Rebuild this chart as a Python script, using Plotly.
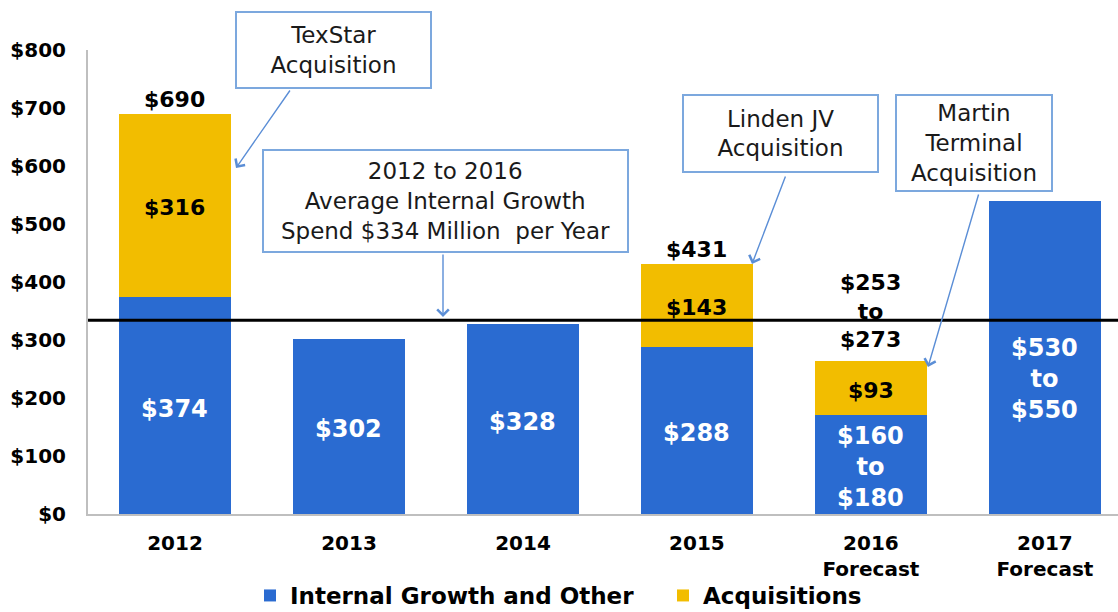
import plotly.graph_objects as go

# ---------------- data ----------------
years = ["2012", "2013", "2014", "2015", "2016<br>Forecast", "2017<br>Forecast"]
internal = [374, 302, 328, 288, 170, 540]
acquisitions = [316, 0, 0, 143, 93, 0]
internal_labels = ["$374", "$302", "$328", "$288", "$160<br>to<br>$180", "$530<br>to<br>$550"]
acq_labels = ["$316", "", "", "$143", "$93", ""]
total_labels = ["$690", "", "", "$431", "$253<br>to<br>$273", ""]
avg_internal = 334
y_ticks = [0, 100, 200, 300, 400, 500, 600, 700, 800]
y_tick_text = ["$0", "$100", "$200", "$300", "$400", "$500", "$600", "$700", "$800"]

callouts = [
    "TexStar<br>Acquisition",
    "2012 to 2016<br>Average Internal Growth<br>Spend $334 Million  per Year",
    "Linden JV<br>Acquisition",
    "Martin<br>Terminal<br>Acquisition",
]

# ---------------- style ----------------
BLUE = "#2A6BD1"
GOLD = "#F2BD00"
BOX = "#7CA8DE"
ARROW = "#5B8ED6"
FONT = "DejaVu Sans"

W, H = 1118, 612
L, R, T, B = 88, 1118, 50, 514


def px(x):
    return (x - L) / (R - L)


def py(y):
    return (B - y) / (B - T)


fig = go.Figure()
fig.add_trace(go.Bar(x=list(range(len(years))), y=internal, name="Internal Growth and Other",
                     marker=dict(color=BLUE, line=dict(width=0))))
fig.add_trace(go.Bar(x=list(range(len(years))), y=acquisitions, name="Acquisitions",
                     marker=dict(color=GOLD, line=dict(width=0))))

ann = []
# labels inside internal segment
for i, (v, t) in enumerate(zip(internal, internal_labels)):
    multi = "<br>" in t
    shift = -22 if i == 5 else (-2 if multi else -3)
    ann.append(dict(x=i, y=v / 2, text=t, showarrow=False, yshift=shift,
                    font=dict(family=FONT, size=24, color="white", weight="bold")))
# labels inside acquisition segment
for i, (a, t) in enumerate(zip(acquisitions, acq_labels)):
    if t:
        ann.append(dict(x=i, y=internal[i] + a / 2, text=t, showarrow=False, yshift=-2,
                        font=dict(family=FONT, size=22, color="black", weight="bold")))
# totals
for i, t in enumerate(total_labels):
    if t:
        tot = internal[i] + acquisitions[i]
        ys = 7 if "<br>" in t else 0
        ann.append(dict(x=i, y=tot, text=t, showarrow=False, yanchor="bottom",
                        yshift=ys,
                        font=dict(family=FONT, size=22, color="black", weight="bold")))

# callout boxes (pixel geometry: left, top, right, bottom)
boxes = [(235, 11, 432, 89), (262, 149, 629, 253), (682, 94, 879, 173), (895, 94, 1053, 192)]
for (x0, y0, x1, y1), t in zip(boxes, callouts):
    ann.append(dict(xref="paper", yref="paper", x=px((x0 + x1) / 2), y=py((y0 + y1) / 2),
                    xanchor="center", yanchor="middle", text=t, showarrow=False,
                    width=x1 - x0 - 4, height=y1 - y0 - 4, borderpad=0,
                    bordercolor=BOX, borderwidth=2, bgcolor="white", align="center",
                    font=dict(family=FONT, size=23, color="#1a1a1a")))

# arrows (head, tail) in pixels
arrows = [((236, 168), (291, 89)), ((443, 317), (443, 253)),
          ((752, 264), (786, 175)), ((928, 367), (979, 193))]
for (hx, hy), (tx, ty) in arrows:
    ann.append(dict(xref="paper", yref="paper", x=px(hx), y=py(hy), text="",
                    showarrow=True, ax=tx - hx, ay=ty - hy, arrowhead=4,
                    arrowsize=1.6, arrowwidth=1.4, arrowcolor=ARROW,
                    standoff=0, startstandoff=0))

fig.update_layout(
    width=W, height=H,
    margin=dict(l=L, r=W - R, t=T, b=H - B, autoexpand=False),
    paper_bgcolor="white", plot_bgcolor="white",
    barmode="stack", bargap=0.356,
    font=dict(family=FONT, color="black"),
    showlegend=True,
    legend=dict(orientation="h", x=px(250), xanchor="left", y=py(617), yanchor="bottom",
                bgcolor="rgba(0,0,0,0)",
                font=dict(family=FONT, size=23, color="black", weight="bold"),
                traceorder="normal", itemwidth=30, entrywidth=368),
    annotations=ann,
    shapes=[dict(type="line", xref="paper", x0=0, x1=1, yref="y",
                 y0=avg_internal, y1=avg_internal, line=dict(color="black", width=3),
                 layer="above")],
)
fig.update_xaxes(tickmode="array", tickvals=list(range(len(years))), ticktext=years,
                 range=[-0.5, 5.42], showline=True, linecolor="#BFBFBF",
                 linewidth=2, showgrid=False, zeroline=False, ticks="outside", ticklen=10,
                 tickcolor="rgba(0,0,0,0)",
                 tickfont=dict(family=FONT, size=20, color="black", weight="bold"))
fig.update_yaxes(range=[0, 800], tickmode="array", tickvals=y_ticks, ticktext=y_tick_text,
                 showline=True, linecolor="#BFBFBF", linewidth=2, showgrid=False,
                 zeroline=False, ticks="outside", ticklen=16, tickcolor="rgba(0,0,0,0)",
                 tickfont=dict(family=FONT, size=20, color="black", weight="bold"))

fig.write_html("out.html", config={"displayModeBar": False},
               post_script="document.body.style.margin='0';")
